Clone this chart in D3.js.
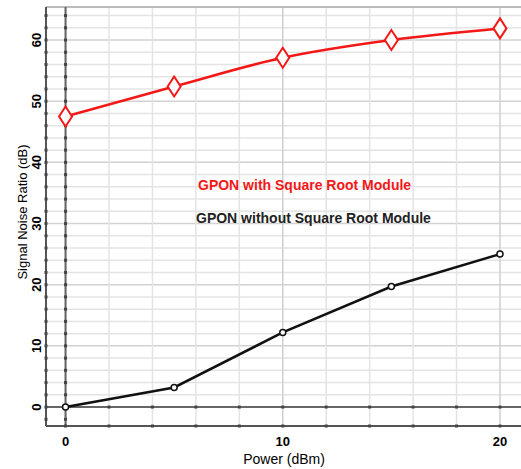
<!DOCTYPE html>
<html>
<head>
<meta charset="utf-8">
<script src="https://cdn.jsdelivr.net/npm/d3@7"></script>
<style>
body { margin: 0; background: #fff; }
text { font-family: Arial, "Liberation Sans", sans-serif; }
</style>
</head>
<body>
<script>
// data
var power = [0, 5, 10, 15, 20];
var withModule = [47.5, 52.4, 57.1, 60.0, 61.9];
var withoutModule = [0, 3.2, 12.2, 19.7, 25.0];
var xTicks = [0, 10, 20];
var yTicks = [0, 10, 20, 30, 40, 50, 60];
var seriesNames = ["GPON with Square Root Module", "GPON without Square Root Module"];

var width = 521, height = 469;

const svg = d3.select("body").append("svg")
  .attr("width", width)
  .attr("height", height);

// scales
var xscale = d3.scaleLinear().domain([-0.9, 21]).range([46, 521.7]);
var yscale = d3.scaleLinear().domain([-3.1, 65.4]).range([426, 7]);

var xGrid = d3.range(0, 21, 2);
var yGrid = d3.range(0, 65, 2);

// grid
svg.append("g").selectAll("line")
  .data(yGrid).enter().append("line")
  .attr("x1", xscale(-0.9)).attr("x2", width)
  .attr("y1", d => yscale(d)).attr("y2", d => yscale(d))
  .attr("stroke", d => d % 10 == 0 ? "#d2d2d2" : "#e4e4e4")
  .attr("stroke-width", 1.5);

svg.append("g").selectAll("line")
  .data(xGrid).enter().append("line")
  .attr("x1", d => xscale(d)).attr("x2", d => xscale(d))
  .attr("y1", yscale(65.4)).attr("y2", yscale(-3.1))
  .attr("stroke", d => d % 10 == 0 ? "#cfcfcf" : "#e4e4e4")
  .attr("stroke-width", 1.5);

// top border
svg.append("line")
  .attr("x1", xscale(-0.9)).attr("x2", width)
  .attr("y1", yscale(65.4)).attr("y2", yscale(65.4))
  .attr("stroke", "#bbb").attr("stroke-width", 2);

// zero lines
svg.append("line")
  .attr("x1", xscale(-0.9)).attr("x2", width)
  .attr("y1", yscale(0)).attr("y2", yscale(0))
  .attr("stroke", "#666").attr("stroke-width", 2);
svg.append("line")
  .attr("x1", xscale(0)).attr("x2", xscale(0))
  .attr("y1", yscale(65.4)).attr("y2", yscale(-3.1))
  .attr("stroke", "#666").attr("stroke-width", 2);

// axes lines
svg.append("line")
  .attr("x1", xscale(-0.9)).attr("x2", xscale(-0.9))
  .attr("y1", yscale(65.4)).attr("y2", yscale(-3.1))
  .attr("stroke", "#555").attr("stroke-width", 2);
svg.append("line")
  .attr("x1", xscale(-0.9)).attr("x2", width)
  .attr("y1", yscale(-3.1)).attr("y2", yscale(-3.1))
  .attr("stroke", "#555").attr("stroke-width", 2);

// tick dots
var dots = svg.append("g").attr("fill", "#444");
dots.selectAll(".ly").data(yGrid.concat([-2])).enter().append("rect")
  .attr("x", xscale(-0.9) - 1.5).attr("y", d => yscale(d) - 1.5)
  .attr("width", 3).attr("height", 3);
dots.selectAll(".zy").data(yGrid.concat([-2])).enter().append("rect")
  .attr("x", xscale(0) - 1.5).attr("y", d => yscale(d) - 1.5)
  .attr("width", 3).attr("height", 3);
dots.selectAll(".bx").data(xGrid).enter().append("rect")
  .attr("x", d => xscale(d) - 1.5).attr("y", yscale(-3.1) - 1.5)
  .attr("width", 3).attr("height", 3);
dots.selectAll(".zx").data(xGrid).enter().append("rect")
  .attr("x", d => xscale(d) - 1.5).attr("y", yscale(0) - 1.5)
  .attr("width", 3).attr("height", 3);

// tick labels
svg.append("g").selectAll("text")
  .data(xTicks).enter().append("text")
  .attr("x", d => xscale(d)).attr("y", 446)
  .attr("text-anchor", "middle")
  .attr("font-size", 13).attr("font-weight", "bold")
  .text(d => d);

svg.append("g").selectAll("text")
  .data(yTicks).enter().append("text")
  .attr("transform", d => "translate(41," + yscale(d) + ") rotate(-90)")
  .attr("text-anchor", "middle")
  .attr("font-size", 13).attr("font-weight", "bold")
  .text(d => d);

// axis titles
svg.append("text")
  .attr("x", 284).attr("y", 464)
  .attr("text-anchor", "middle")
  .attr("font-size", 14)
  .text("Power (dBm)");

svg.append("text")
  .attr("transform", "translate(27,212) rotate(-90)")
  .attr("text-anchor", "middle")
  .attr("font-size", 13)
  .text("Signal Noise Ratio (dB)");

// series
var pts1 = power.map((p, i) => [p, withModule[i]]);
var pts2 = power.map((p, i) => [p, withoutModule[i]]);

var line1 = d3.line().x(d => xscale(d[0])).y(d => yscale(d[1])).curve(d3.curveMonotoneX);
var line2 = d3.line().x(d => xscale(d[0])).y(d => yscale(d[1]));

svg.append("path").attr("d", line2(pts2))
  .attr("fill", "none").attr("stroke", "#111").attr("stroke-width", 2.5);
svg.append("g").selectAll("circle")
  .data(pts2).enter().append("circle")
  .attr("cx", d => xscale(d[0])).attr("cy", d => yscale(d[1]))
  .attr("r", 3).attr("fill", "#fff").attr("stroke", "#111").attr("stroke-width", 1.5);

svg.append("path").attr("d", line1(pts1))
  .attr("fill", "none").attr("stroke", "#f31818").attr("stroke-width", 2.5);
svg.append("g").selectAll("path")
  .data(pts1).enter().append("path")
  .attr("d", "M0,-10 L6.5,0 L0,10 L-6.5,0 Z")
  .attr("transform", d => "translate(" + xscale(d[0]) + "," + yscale(d[1]) + ")")
  .attr("fill", "#fff").attr("stroke", "#f31818").attr("stroke-width", 2);

// labels
svg.append("text")
  .attr("x", 198).attr("y", 190)
  .attr("font-size", 14).attr("font-weight", "bold")
  .attr("fill", "#f31818")
  .text(seriesNames[0]);
svg.append("text")
  .attr("x", 196).attr("y", 223)
  .attr("font-size", 14).attr("font-weight", "bold")
  .attr("fill", "#222")
  .text(seriesNames[1]);
</script>
</body>
</html>
